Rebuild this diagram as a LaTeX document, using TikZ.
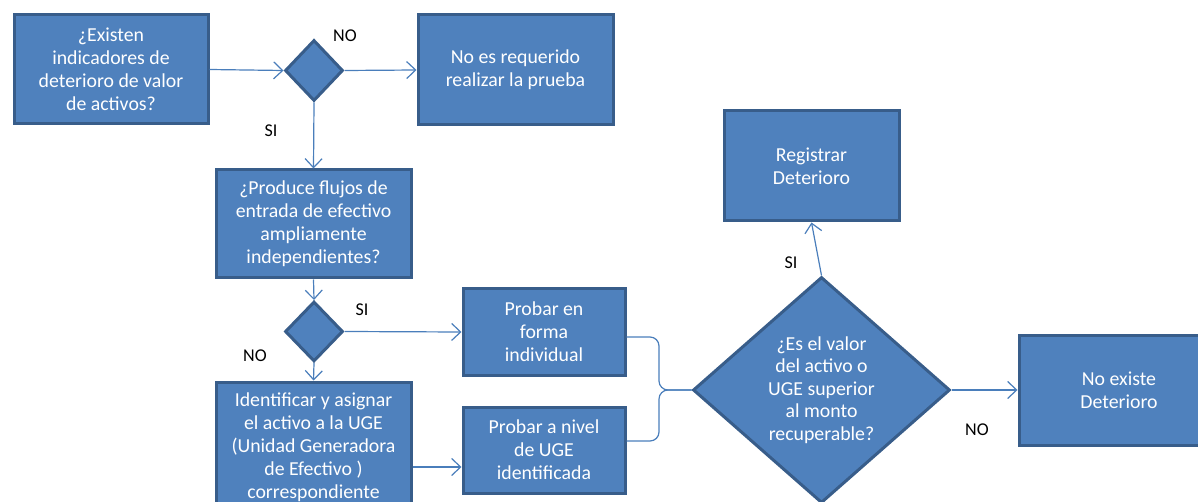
\documentclass[tikz,border=0pt]{standalone}
\usepackage{fontspec}
\setmainfont{Carlito}
\usetikzlibrary{shapes.geometric,arrows.meta}
\definecolor{boxfill}{HTML}{4F81BD}
\definecolor{boxline}{HTML}{385D8A}
\definecolor{conn}{HTML}{4A7EBB}
\tikzset{
  box/.style={draw=boxline, fill=boxfill, line width=3pt, rectangle, text=white, align=center,
    font=\fontsize{19.8}{23}\selectfont, inner sep=0pt},
  dia/.style={draw=boxline, fill=boxfill, line width=3pt, diamond, text=white, align=center,
    font=\fontsize{19.8}{22.5}\selectfont, inner sep=0pt},
  arr/.style={draw=conn, line width=1.2pt, -{Straight Barb[length=9pt,width=17pt]}},
  link/.style={draw=conn, line width=1.2pt, rounded corners=9pt},
  lab/.style={text=black, font=\fontsize{18}{20}\selectfont, inner sep=0pt}
}
\begin{document}
\begin{tikzpicture}[x=1pt,y=-1pt]
\useasboundingbox (0,0) rectangle (1198,502);
\clip (0,0) rectangle (1198,502);
% boxes
\node[box, minimum width=194, minimum height=109] (b1) at (111,69.5) {¿Existen\\indicadores de\\deterioro de valor\\de activos?};
\node[dia, minimum width=58, minimum height=61] (d1) at (314,70.5) {};
\node[box, minimum width=195, minimum height=110] (b2) at (515.5,70) {No es requerido\\realizar la prueba};
\node[box, minimum width=195, minimum height=108] (b3) at (313.5,224) {¿Produce flujos de\\entrada de efectivo\\ampliamente\\independientes?};
\node[dia, minimum width=58, minimum height=60] (d2) at (314,331.5) {};
\node[box, minimum width=162, minimum height=86] (b4) at (544,332) {Probar en\\forma\\individual};
\node[box, minimum width=195, minimum height=130] (b5) at (313.5,447) {Identificar y asignar\\el activo a la UGE\\(Unidad Generadora\\de Efectivo )\\correspondiente};
\node[box, minimum width=162, minimum height=86] (b6) at (544,450) {Probar a nivel\\de UGE\\identificada};
\node[box, minimum width=175, minimum height=110] (b7) at (811.5,166) {Registrar\\Deterioro};
\node[dia, minimum width=257, minimum height=226] (d3) at (821.5,390) {¿Es el valor\\del activo o\\UGE superior\\al monto\\recuperable?};
\node[box, minimum width=200, minimum height=110] (b8) at (1119,390) {No existe\\Deterioro};
% labels
\node[lab] (l1) at (345,36) {NO};
\node[lab] (l2) at (271,131) {SI};
\node[lab] (l3) at (362,310) {SI};
\node[lab] (l4) at (255,356) {NO};
\node[lab] (l5) at (791,263) {SI};
\node[lab] (l6) at (977,430) {NO};
% connectors
\draw[arr] (b1.east) -- (d1.west);
\draw[arr] (d1.east) -- (b2.west);
\draw[arr] (d1.south) -- (b3.north);
\draw[arr] (b3.south) -- (d2.north);
\draw[arr] (d2.east) -- (b4.west);
\draw[arr] (d2.south) -- (b5.north);
\draw[arr] ([yshift=-20pt]b5.east) coordinate (p) -- (p -| b6.west);
\coordinate (j) at (659,390);
\draw[link] ([yshift=-5pt]b4.east) -| (j) -- (d3.west);
\draw[link] ([yshift=9pt]b6.east) -| (j) -- (d3.west);
\draw[arr] (d3.north) -- (b7.south);
\draw[arr] (d3.east) -- (b8.west);
\end{tikzpicture}
\end{document}
